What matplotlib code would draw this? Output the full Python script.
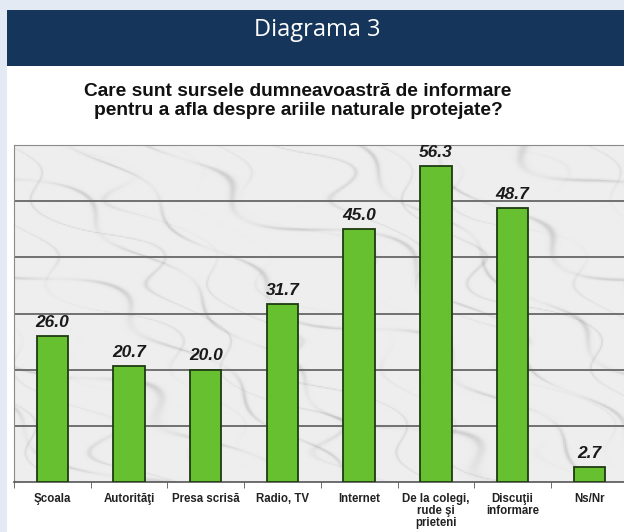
import numpy as np
import matplotlib.pyplot as plt
from matplotlib.patches import Rectangle

categories = ["Şcoala", "Autorităţi", "Presa scrisă", "Radio, TV", "Internet",
              "De la colegi,\nrude şi\nprieteni", "Discuţii\ninformare", "Ns/Nr"]
values = [26.0, 20.7, 20.0, 31.7, 45.0, 56.3, 48.7, 2.7]

W, H = 624, 532
fig = plt.figure(figsize=(W / 100, H / 100), dpi=100)
fig.patch.set_facecolor("#e4eaf3")

# white panel and navy header
fig.patches.append(Rectangle((7 / W, 0), 1 - 7 / W, (H - 66) / H, transform=fig.transFigure,
                             facecolor="white", edgecolor="none", zorder=-10))
fig.patches.append(Rectangle((7 / W, (H - 66) / H), 1 - 7 / W, 56 / H, transform=fig.transFigure,
                             facecolor="#15355a", edgecolor="none", zorder=-9))
fig.text(317 / W, (H - 30) / H, "Diagrama 3", color="white", fontsize=17,
         family="Open Sans", ha="center", va="center")
fig.text(298 / W, (H - 101) / H,
         "Care sunt sursele dumneavoastră de informare\npentru a afla despre ariile naturale protejate?",
         fontsize=13.8, fontweight="bold", family="Liberation Sans",
         ha="center", va="center", linespacing=1.18, color="#111111")

# plot area runs off the right edge of the picture
ax = fig.add_axes([14 / W, (H - 482) / H, (W - 14) / W, (482 - 145) / H])
ax.set_facecolor("#ececec")
xmax = -0.5 + (W - 14) / 76.7

# light marble background with faint diagonal grey veins
xx, yy = np.meshgrid(np.linspace(0, 1, 400), np.linspace(0, 1, 260))
phase = 16 * (xx + 0.9 * yy) + 0.9 * np.sin(13 * xx + 4 * yy) + 0.7 * np.sin(21 * yy - 6 * xx)
veins = np.exp(-np.sin(phase) ** 2 / 0.01) * (0.6 + 0.4 * np.sin(31 * xx - 17 * yy))
phase2 = 27 * (xx + 0.6 * yy) + 1.2 * np.sin(25 * yy) + 0.8 * np.sin(19 * xx)
veins2 = np.exp(-np.sin(phase2) ** 2 / 0.006) * (0.5 + 0.5 * np.sin(11 * xx + 9 * yy))
marble = 0.93 - 0.12 * veins - 0.08 * veins2
ax.imshow(marble, extent=(-0.5, xmax, 0, 60), aspect="auto",
          cmap="gray", vmin=0, vmax=1, zorder=0, origin="lower")

x = np.arange(len(categories))
ax.bar(x, values, width=0.41, color="#66c030", edgecolor="#1e3b12", lw=1.3, zorder=3)
for xi, v in zip(x, values):
    ax.text(xi, v + 1.1, f"{v:.1f}", ha="center", va="bottom", fontsize=12.5,
            fontweight="bold", fontstyle="italic", family="Liberation Sans",
            color="#1a1a1a", zorder=4)

ax.set_xlim(-0.5, xmax)
ax.set_ylim(0, 60)
ax.set_yticks(np.arange(10, 60, 10))
ax.yaxis.grid(True, color="#707070", lw=1.4, zorder=1)
ax.tick_params(axis="y", length=0, labelleft=False)

ax.set_xticks(x)
ax.set_xticklabels(categories, fontsize=8.3, fontweight="bold", family="Liberation Sans",
                   color="#222222", linespacing=1.0)
ax.tick_params(axis="x", length=0, pad=8)
ax.set_xticks(np.arange(-0.5, 7.5, 1), minor=True)
ax.tick_params(axis="x", which="minor", length=4, color="#555555")

ax.spines["right"].set_visible(False)
ax.spines["top"].set_color("#8a8a8a")
ax.spines["left"].set_color("#8a8a8a")
ax.spines["bottom"].set_color("#555555")
ax.spines["bottom"].set_linewidth(1.2)

fig.savefig("out.png", dpi=100, facecolor=fig.get_facecolor())
